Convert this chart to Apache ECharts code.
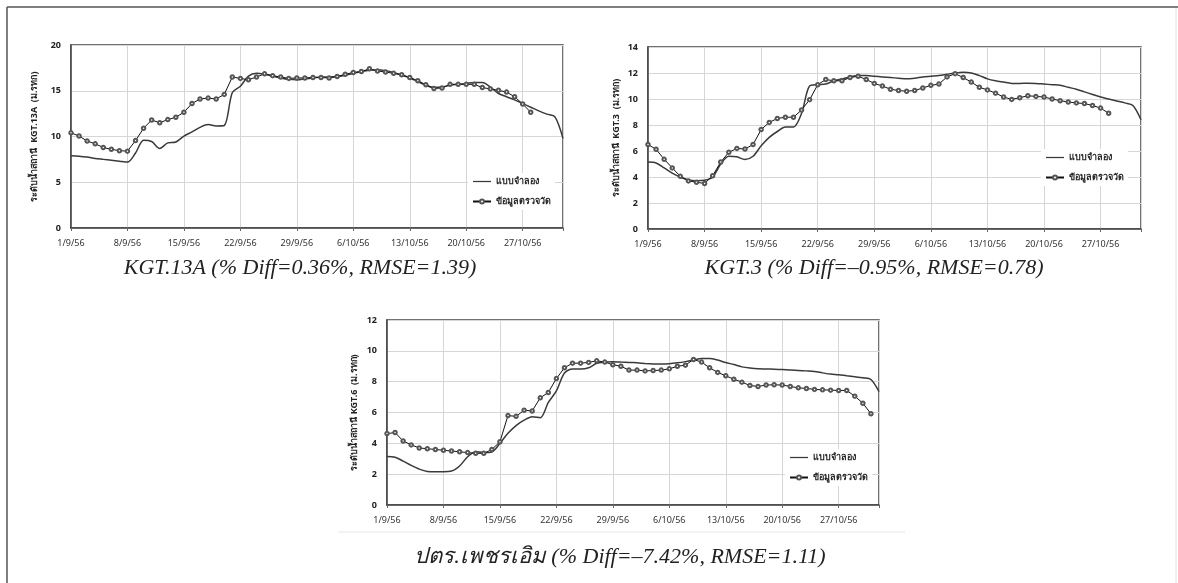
<!DOCTYPE html>
<html>
<head>
<meta charset="utf-8">
<script src="https://cdn.jsdelivr.net/npm/echarts@6/dist/echarts.min.js"></script>
<style>
  html, body { margin: 0; padding: 0; background: #fff; }
  #main { width: 1178px; height: 583px; }
</style>
</head>
<body>
<div id="main"></div>
<script>
  // tick labels on the date axis, one every 7 days from 1/9/56
  const xTickLabels = ['1/9/56', '8/9/56', '15/9/56', '22/9/56', '29/9/56', '6/10/56', '13/10/56', '20/10/56', '27/10/56'];
  const seriesNames = ['แบบจำลอง', 'ข้อมูลตรวจวัด'];

  // KGT.13A - daily values from day 0 (1/9/56)
  const sim13A = [7.9, 7.85, 7.75, 7.6, 7.5, 7.4, 7.3, 7.2, 8.2, 9.6,
    9.45, 8.7, 9.3, 9.4, 10.05, 10.5, 11.0, 11.3, 11.15, 11.2,
    14.8, 15.5, 16.6, 16.9, 16.8, 16.6, 16.4, 16.25, 16.2, 16.3,
    16.4, 16.5, 16.5, 16.55, 16.7, 16.9, 17.1, 17.25, 17.3, 17.2,
    17.0, 16.7, 16.4, 16.0, 15.6, 15.35, 15.4, 15.6, 15.7, 15.8,
    15.9, 15.9, 15.4, 14.7, 14.35, 14.0, 13.6, 13.2, 12.8, 12.45,
    12.15, 9.8];
  const obs13A = [10.4, 10.05, 9.5, 9.2, 8.8, 8.6, 8.45, 8.4, 9.55, 10.9,
    11.8, 11.5, 11.85, 12.1, 12.65, 13.6, 14.1, 14.2, 14.1, 14.6,
    16.5, 16.35, 16.2, 16.5, 16.85, 16.65, 16.5, 16.35, 16.4, 16.4,
    16.45, 16.45, 16.4, 16.55, 16.8, 17.0, 17.1, 17.4, 17.15, 17.05,
    16.9, 16.75, 16.45, 16.1, 15.65, 15.25, 15.3, 15.7, 15.7, 15.7,
    15.7, 15.35, 15.2, 15.05, 14.85, 14.35, 13.55, 12.65];

  // KGT.3
  const sim3 = [5.15, 5.08, 4.7, 4.3, 4.0, 3.77, 3.72, 3.75, 4.0, 5.0,
    5.6, 5.55, 5.35, 5.6, 6.4, 7.05, 7.5, 7.85, 7.85, 8.9,
    11.0, 11.1, 11.15, 11.4, 11.55, 11.7, 11.8, 11.8, 11.75, 11.7,
    11.65, 11.6, 11.55, 11.6, 11.7, 11.75, 11.8, 11.9, 12.0, 12.05,
    12.0, 11.8, 11.55, 11.4, 11.3, 11.2, 11.2, 11.22, 11.2, 11.15,
    11.1, 11.05, 10.9, 10.75, 10.55, 10.35, 10.15, 10.0, 9.85, 9.7,
    9.5, 8.4];
  const obs3 = [6.5, 6.13, 5.36, 4.7, 4.05, 3.7, 3.6, 3.5, 4.1, 5.15,
    5.9, 6.2, 6.15, 6.5, 7.65, 8.2, 8.5, 8.6, 8.6, 9.15,
    9.95, 11.1, 11.5, 11.4, 11.4, 11.65, 11.75, 11.5, 11.2, 11.0,
    10.75, 10.65, 10.6, 10.65, 10.85, 11.05, 11.15, 11.7, 11.95, 11.65,
    11.3, 10.9, 10.7, 10.45, 10.15, 9.97, 10.1, 10.25, 10.2, 10.15,
    10.0, 9.87, 9.77, 9.7, 9.65, 9.5, 9.3, 8.9];

  // ปตร.เพชรเอิม (KGT.6)
  const simKGT6 = [3.15, 3.1, 2.85, 2.57, 2.33, 2.18, 2.16, 2.16, 2.2, 2.53,
    3.13, 3.46, 3.4, 3.44, 4.0, 4.65, 5.15, 5.5, 5.73, 5.66,
    6.65, 7.4, 8.56, 8.82, 8.82, 8.9, 9.19, 9.27, 9.3, 9.27,
    9.25, 9.22, 9.18, 9.15, 9.14, 9.16, 9.22, 9.3, 9.4, 9.5,
    9.5, 9.4, 9.24, 9.11, 8.96, 8.88, 8.83, 8.82, 8.81, 8.79,
    8.75, 8.73, 8.7, 8.66, 8.57, 8.49, 8.45, 8.38, 8.32, 8.25,
    8.14, 7.35];
  const obsKGT6 = [4.63, 4.7, 4.15, 3.9, 3.7, 3.65, 3.6, 3.55, 3.5, 3.45,
    3.4, 3.35, 3.35, 3.6, 4.1, 5.8, 5.75, 6.15, 6.1, 6.95,
    7.3, 8.2, 8.9, 9.2, 9.2, 9.25, 9.35, 9.27, 9.1, 9.0,
    8.75, 8.75, 8.7, 8.72, 8.75, 8.83, 9.0, 9.07, 9.44, 9.27,
    8.9, 8.6, 8.38, 8.16, 7.97, 7.75, 7.69, 7.78, 7.8, 7.78,
    7.69, 7.6, 7.56, 7.5, 7.47, 7.45, 7.43, 7.43, 7.06, 6.6,
    5.92];

  const captions = [
    'KGT.13A (% Diff=0.36%, RMSE=1.39)',
    'KGT.3 (% Diff=–0.95%, RMSE=0.78)',
    'ปตร.เพชรเอิม (% Diff=–7.42%, RMSE=1.11)'
  ];
  const yNames = [
    'ระดับน้ำสถานี  KGT.13A  (ม.รทก)',
    'ระดับน้ำสถานี  KGT.3  (ม.รทก)',
    'ระดับน้ำสถานี KGT.6  (ม.รทก)'
  ];

  const panels = [
    { grid: { left: 71, top: 45, width: 492, height: 183 }, ymax: 20, yint: 5, gap: 32, sim: sim13A, obs: obs13A, legend: { left: 468, top: 173 } },
    { grid: { left: 648, top: 47, width: 493, height: 182 }, ymax: 14, yint: 2, gap: 27, sim: sim3, obs: obs3, legend: { left: 1041, top: 149 } },
    { grid: { left: 387, top: 320, width: 492, height: 185 }, ymax: 12, yint: 2, gap: 28, sim: simKGT6, obs: obsKGT6, legend: { left: 785, top: 449 } }
  ];

  function toPairs(arr) {
    return arr.map(function (v, i) { return [i, v]; });
  }

  const font = '"Noto Sans", "DejaVu Sans", sans-serif';
  const lineIcon = 'path://M0,0 L20,0 L20,1.4 L0,1.4 Z';
  const grids = [], xAxes = [], yAxes = [], legends = [], series = [];

  panels.forEach(function (p, k) {
    grids.push(Object.assign({ show: true, borderColor: '#444', borderWidth: 1.5, backgroundColor: 'transparent' }, p.grid));
    xAxes.push({
      gridIndex: k, type: 'value', min: 0, max: 61, interval: 7,
      axisLine: { show: true, onZero: false, lineStyle: { color: '#444', width: 1.5 } },
      axisTick: { show: true, length: 3, lineStyle: { color: '#666' } },
      axisLabel: {
        fontSize: 9, color: '#333', fontFamily: font, margin: 11,
        formatter: function (v) { return v % 7 === 0 ? (xTickLabels[v / 7] || '') : ''; }
      },
      splitLine: { show: true, lineStyle: { color: '#d6d6d6', width: 1 } }
    });
    yAxes.push({
      gridIndex: k, type: 'value', min: 0, max: p.ymax, interval: p.yint,
      axisLine: { show: true, lineStyle: { color: '#444', width: 1.5 } },
      axisTick: { show: false },
      axisLabel: { fontSize: 9, color: '#222', fontWeight: 'bold', fontFamily: font, margin: 10 },
      splitLine: { show: true, lineStyle: { color: '#d6d6d6', width: 1 } },
      name: yNames[k], nameLocation: 'middle', nameGap: p.gap, nameRotate: 90,
      nameTextStyle: { fontSize: 9, color: '#222', fontWeight: 'bold', fontFamily: font }
    });
    legends.push({
      left: p.legend.left, top: p.legend.top, orient: 'vertical',
      data: [{ name: seriesNames[0], icon: lineIcon }, { name: seriesNames[1] }],
      itemWidth: 18, itemHeight: 5, itemGap: 11,
      padding: [4, 4], backgroundColor: '#fff', selectedMode: false,
      textStyle: { fontSize: 9, fontWeight: 'bold', color: '#222', fontFamily: font }
    });
    series.push({
      name: seriesNames[0], type: 'line', xAxisIndex: k, yAxisIndex: k,
      data: toPairs(p.sim), smooth: 0.3, symbol: 'none',
      lineStyle: { color: '#3a3a3a', width: 1.5 }, itemStyle: { color: '#3a3a3a' }, z: 2
    });
    series.push({
      name: seriesNames[1], type: 'line', xAxisIndex: k, yAxisIndex: k,
      data: toPairs(p.obs), symbol: 'emptyCircle', symbolSize: 3.5, showSymbol: true, showAllSymbol: true,
      lineStyle: { color: '#111', width: 1 },
      itemStyle: { color: '#555', borderWidth: 0.7 }, z: 3
    });
  });

  const capFont = 'italic 22px "Liberation Serif", "DejaVu Serif", serif';
  const graphic = [
    { type: 'line', shape: { x1: 7, y1: 7, x2: 1178, y2: 7 }, style: { stroke: '#555', lineWidth: 1.5 } },
    { type: 'line', shape: { x1: 7, y1: 7, x2: 7, y2: 583 }, style: { stroke: '#555', lineWidth: 1.5 } },
    { type: 'line', shape: { x1: 1176, y1: 8, x2: 1176, y2: 583 }, style: { stroke: '#e2e2e2', lineWidth: 1 } },
    { type: 'line', shape: { x1: 338, y1: 532, x2: 905, y2: 532 }, style: { stroke: '#e6e6e6', lineWidth: 1 } },
    { type: 'text', x: 300, y: 268, style: { text: captions[0], font: capFont, fill: '#222', textAlign: 'center', textVerticalAlign: 'middle' } },
    { type: 'text', x: 874, y: 268, style: { text: captions[1], font: capFont, fill: '#222', textAlign: 'center', textVerticalAlign: 'middle' } },
    { type: 'text', x: 620, y: 557, style: { text: captions[2], font: capFont, fill: '#222', textAlign: 'center', textVerticalAlign: 'middle' } }
  ];

  const chart = echarts.init(document.getElementById('main'));
  chart.setOption({
    animation: false,
    backgroundColor: '#fff',
    grid: grids,
    xAxis: xAxes,
    yAxis: yAxes,
    legend: legends,
    series: series,
    graphic: graphic
  });
</script>
</body>
</html>
